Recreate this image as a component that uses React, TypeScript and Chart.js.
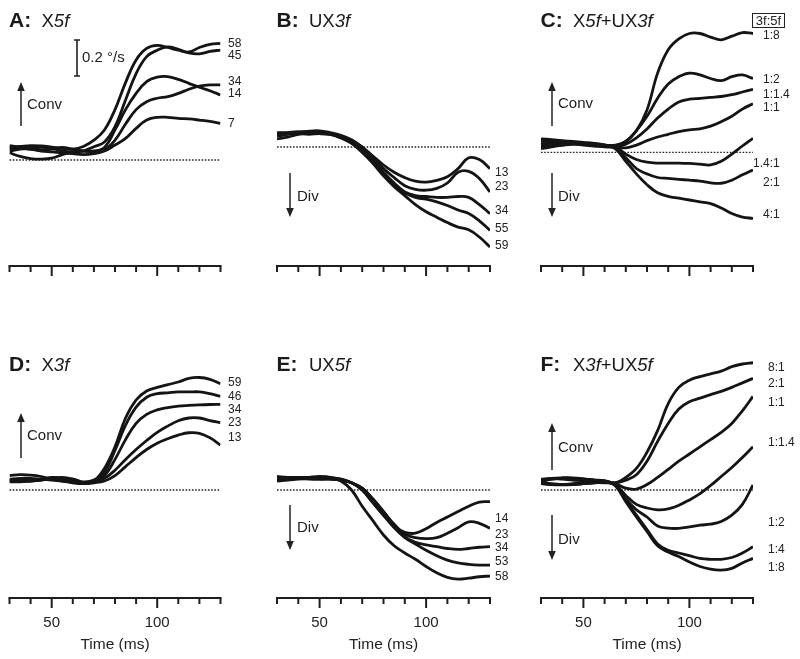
import { useEffect, useRef } from 'react';
import { Chart, registerables } from 'chart.js';
Chart.register(...registerables);

const TIME = [30, 35, 40, 45, 50, 55, 60, 65, 70, 75, 80, 85, 90, 95, 100, 105, 110, 115, 120, 125, 130];
const TICKS = [30, 40, 50, 60, 70, 80, 90, 100, 110, 120, 130];
const MAJOR_TICKS = [50, 100];
const TICK_LABELS = ['50', '100'];
const X_TITLE = 'Time (ms)';

// Panel A: X5f
const A_NAMES = ['58', '45', '34', '14', '7'];
const A_58 = [0.07, 0.075, 0.08, 0.078, 0.072, 0.065, 0.06, 0.075, 0.11, 0.167, 0.28, 0.43, 0.556, 0.62, 0.637, 0.625, 0.61, 0.6, 0.625, 0.643, 0.648];
const A_45 = [0.05, 0.06, 0.065, 0.07, 0.065, 0.05, 0.045, 0.05, 0.074, 0.1, 0.185, 0.333, 0.48, 0.574, 0.61, 0.628, 0.615, 0.595, 0.59, 0.603, 0.611];
const A_34 = [0.04, 0.02, 0.008, 0.005, 0.01, 0.03, 0.045, 0.05, 0.046, 0.056, 0.11, 0.2, 0.28, 0.324, 0.343, 0.352, 0.37, 0.393, 0.41, 0.417, 0.417];
const A_14 = [0.08, 0.07, 0.06, 0.055, 0.06, 0.07, 0.06, 0.05, 0.05, 0.07, 0.167, 0.28, 0.37, 0.435, 0.46, 0.463, 0.448, 0.426, 0.404, 0.385, 0.361];
const A_7 = [0.06, 0.065, 0.06, 0.05, 0.045, 0.04, 0.035, 0.03, 0.035, 0.05, 0.083, 0.12, 0.176, 0.222, 0.237, 0.237, 0.231, 0.228, 0.222, 0.215, 0.204];

// Panel B: UX3f
const B_NAMES = ['13', '23', '34', '55', '59'];
const B_13 = [0.06, 0.07, 0.08, 0.088, 0.09, 0.08, 0.065, 0.04, 0, -0.05, -0.1, -0.14, -0.17, -0.19, -0.195, -0.185, -0.165, -0.12, -0.06, -0.07, -0.12];
const B_23 = [0.045, 0.055, 0.07, 0.08, 0.085, 0.075, 0.06, 0.035, 0, -0.06, -0.12, -0.17, -0.215, -0.235, -0.24, -0.23, -0.2, -0.14, -0.135, -0.175, -0.25];
const B_34 = [0.07, 0.075, 0.08, 0.085, 0.08, 0.075, 0.06, 0.03, -0.01, -0.07, -0.14, -0.2, -0.25, -0.27, -0.275, -0.28, -0.28, -0.275, -0.28, -0.32, -0.37];
const B_55 = [0.075, 0.08, 0.085, 0.08, 0.075, 0.07, 0.055, 0.025, -0.02, -0.08, -0.15, -0.21, -0.255, -0.28, -0.29, -0.305, -0.325, -0.35, -0.37, -0.41, -0.463];
const B_59 = [0.08, 0.078, 0.075, 0.07, 0.075, 0.07, 0.05, 0.02, -0.03, -0.09, -0.16, -0.22, -0.27, -0.32, -0.36, -0.39, -0.42, -0.445, -0.46, -0.5, -0.556];

// Panel C: X5f+UX3f
const C_NAMES = ['1:8', '1:2', '1:1.4', '1:1', '1.4:1', '2:1', '4:1'];
const C_1_8 = [0.07, 0.065, 0.06, 0.055, 0.05, 0.045, 0.04, 0.04, 0.06, 0.12, 0.235, 0.44, 0.57, 0.63, 0.66, 0.66, 0.64, 0.625, 0.645, 0.665, 0.66];
const C_1_2 = [0.05, 0.055, 0.06, 0.055, 0.05, 0.045, 0.04, 0.035, 0.06, 0.12, 0.2, 0.3, 0.38, 0.42, 0.44, 0.43, 0.41, 0.398, 0.42, 0.43, 0.41];
const C_1_14 = [0.03, 0.035, 0.04, 0.045, 0.04, 0.035, 0.03, 0.03, 0.045, 0.08, 0.13, 0.19, 0.24, 0.28, 0.295, 0.3, 0.305, 0.31, 0.32, 0.335, 0.35];
const C_1_1 = [0.06, 0.06, 0.055, 0.05, 0.05, 0.045, 0.04, 0.03, 0.025, 0.04, 0.065, 0.085, 0.1, 0.115, 0.125, 0.13, 0.145, 0.17, 0.2, 0.24, 0.27];
const C_14_1 = [0.02, 0.03, 0.04, 0.045, 0.05, 0.045, 0.035, 0.03, -0.01, -0.04, -0.055, -0.06, -0.06, -0.06, -0.062, -0.066, -0.07, -0.05, -0.01, 0.035, 0.078];
const C_2_1 = [0.04, 0.045, 0.05, 0.05, 0.045, 0.04, 0.035, 0.025, -0.03, -0.09, -0.12, -0.14, -0.145, -0.15, -0.155, -0.16, -0.17, -0.172, -0.155, -0.125, -0.098];
const C_4_1 = [0.075, 0.07, 0.065, 0.06, 0.055, 0.05, 0.04, 0.02, -0.05, -0.12, -0.18, -0.225, -0.245, -0.255, -0.265, -0.275, -0.285, -0.31, -0.34, -0.36, -0.367];

// Panel D: X3f
const D_NAMES = ['59', '46', '34', '23', '13'];
const D_59 = [0.06, 0.065, 0.065, 0.06, 0.055, 0.05, 0.045, 0.035, 0.05, 0.12, 0.24, 0.4, 0.5, 0.55, 0.57, 0.585, 0.6, 0.62, 0.625, 0.615, 0.59];
const D_46 = [0.08, 0.085, 0.083, 0.075, 0.06, 0.055, 0.06, 0.045, 0.055, 0.1, 0.22, 0.36, 0.46, 0.515, 0.535, 0.54, 0.545, 0.545, 0.545, 0.535, 0.52];
const D_34 = [0.05, 0.05, 0.05, 0.055, 0.065, 0.07, 0.06, 0.04, 0.05, 0.08, 0.17, 0.28, 0.37, 0.42, 0.445, 0.458, 0.466, 0.47, 0.473, 0.475, 0.476];
const D_23 = [0.055, 0.055, 0.055, 0.06, 0.07, 0.065, 0.05, 0.035, 0.045, 0.065, 0.11, 0.17, 0.225, 0.275, 0.32, 0.355, 0.385, 0.4, 0.4, 0.385, 0.374];
const D_13 = [0.045, 0.045, 0.05, 0.055, 0.06, 0.05, 0.04, 0.035, 0.04, 0.05, 0.08, 0.13, 0.18, 0.225, 0.26, 0.285, 0.305, 0.318, 0.315, 0.29, 0.25];

// Panel E: UX5f
const E_NAMES = ['14', '23', '34', '53', '58'];
const E_14 = [0.05, 0.055, 0.06, 0.065, 0.07, 0.07, 0.06, 0.04, 0, -0.07, -0.14, -0.2, -0.235, -0.24, -0.215, -0.18, -0.15, -0.12, -0.09, -0.067, -0.065];
const E_23 = [0.06, 0.065, 0.07, 0.07, 0.065, 0.06, 0.055, 0.04, 0.01, -0.05, -0.12, -0.19, -0.245, -0.265, -0.27, -0.265, -0.24, -0.21, -0.177, -0.185, -0.213];
const E_34 = [0.07, 0.07, 0.065, 0.06, 0.06, 0.065, 0.06, 0.04, 0.01, -0.05, -0.12, -0.2, -0.26, -0.29, -0.305, -0.315, -0.325, -0.33, -0.325, -0.318, -0.315];
const E_53 = [0.075, 0.07, 0.07, 0.065, 0.06, 0.06, 0.055, 0.04, 0, -0.07, -0.14, -0.21, -0.265, -0.3, -0.335, -0.365, -0.39, -0.405, -0.413, -0.417, -0.417];
const E_58 = [0.055, 0.06, 0.065, 0.07, 0.075, 0.07, 0.05, 0, -0.09, -0.17, -0.25, -0.31, -0.35, -0.385, -0.425, -0.46, -0.485, -0.495, -0.49, -0.482, -0.478];

// Panel F: X3f+UX5f
const F_NAMES = ['8:1', '2:1', '1:1', '1:1.4', '1:2', '1:4', '1:8'];
const F_8_1 = [0.05, 0.06, 0.065, 0.065, 0.06, 0.055, 0.05, 0.04, 0.07, 0.12, 0.21, 0.33, 0.48, 0.57, 0.61, 0.63, 0.645, 0.66, 0.685, 0.7, 0.707];
const F_2_1 = [0.055, 0.065, 0.068, 0.067, 0.062, 0.055, 0.05, 0.04, 0.055, 0.085, 0.16, 0.27, 0.37, 0.45, 0.49, 0.51, 0.53, 0.548, 0.57, 0.595, 0.62];
const F_1_1 = [0.045, 0.035, 0.03, 0.03, 0.035, 0.04, 0.04, 0.035, 0.01, 0.005, 0.03, 0.07, 0.115, 0.16, 0.2, 0.24, 0.28, 0.32, 0.37, 0.44, 0.52];
const F_1_14 = [0.06, 0.065, 0.06, 0.055, 0.05, 0.05, 0.045, 0.03, -0.03, -0.08, -0.1, -0.11, -0.105, -0.085, -0.055, -0.02, 0.025, 0.075, 0.125, 0.18, 0.24];
const F_1_2 = [0.04, 0.03, 0.028, 0.03, 0.035, 0.04, 0.045, 0.03, -0.05, -0.11, -0.15, -0.2, -0.212, -0.213, -0.205, -0.195, -0.19, -0.175, -0.14, -0.08, 0.028];
const F_1_4 = [0.05, 0.06, 0.065, 0.065, 0.06, 0.055, 0.05, 0.025, -0.06, -0.14, -0.22, -0.3, -0.335, -0.35, -0.365, -0.38, -0.385, -0.385, -0.375, -0.35, -0.315];
const F_1_8 = [0.035, 0.03, 0.03, 0.035, 0.04, 0.045, 0.045, 0.025, -0.065, -0.15, -0.23, -0.31, -0.345, -0.37, -0.4, -0.425, -0.44, -0.445, -0.435, -0.405, -0.38];

const FONT = '"Liberation Sans", Arial, Helvetica, sans-serif';
const INK = '#141414';
const PX_PER_UNIT = 180; // pixels per deg/s

type Arrow = { x: number; tail: number; tip: number; text: string; tx: number; ty: number };
interface PanelCfg {
  left: number; top: number; width: number; height: number;
  x0: number; x1: number; topY: number; axisY: number; zeroY: number;
  letter: string; sub: [string, boolean][];
  series: number[][]; names: string[]; labelDx: number[]; labelDy: number[];
  arrows: Arrow[]; tickLabels: boolean;
  scaleBar?: { x: number; top: number; text: string };
  box?: { x: number; y: number; w: number; h: number; text: string };
}

const PANELS: PanelCfg[] = [
  {
    left: 0, top: 0, width: 265, height: 300, x0: 9.5, x1: 220.5, topY: 5, axisY: 266, zeroY: 160,
    letter: 'A:', sub: [['X', false], ['5f', true]],
    series: [A_58, A_45, A_34, A_14, A_7], names: A_NAMES,
    labelDx: [7.5, 7.5, 7.5, 7.5, 7.5], labelDy: [0, 6, -3, -1, 0],
    arrows: [{ x: 21, tail: 126, tip: 82, text: 'Conv', tx: 27, ty: 105 }], tickLabels: false,
    scaleBar: { x: 77, top: 40, text: '0.2 °/s' },
  },
  {
    left: 265, top: 0, width: 265, height: 300, x0: 277, x1: 490, topY: 5, axisY: 266, zeroY: 147,
    letter: 'B:', sub: [['UX', false], ['3f', true]],
    series: [B_13, B_23, B_34, B_55, B_59], names: B_NAMES,
    labelDx: [5, 5, 5, 5, 5], labelDy: [4.5, -5, -2.5, -1.3, -1],
    arrows: [{ x: 290, tail: 173, tip: 217, text: 'Div', tx: 297, ty: 197 }], tickLabels: false,
  },
  {
    left: 530, top: 0, width: 270, height: 300, x0: 541, x1: 753, topY: 5, axisY: 266, zeroY: 152.3,
    letter: 'C:', sub: [['X', false], ['5f', true], ['+UX', false], ['3f', true]],
    series: [C_1_8, C_1_2, C_1_14, C_1_1, C_14_1, C_2_1, C_4_1], names: C_NAMES,
    labelDx: [10, 10, 10, 10, 0, 10, 10], labelDy: [2.5, 1.5, 5, 4, 25, 13, -4],
    arrows: [
      { x: 552, tail: 126, tip: 82, text: 'Conv', tx: 558, ty: 104 },
      { x: 552, tail: 173, tip: 217, text: 'Div', tx: 558, ty: 197 },
    ], tickLabels: false,
    box: { x: 752, y: 13, w: 32, h: 14, text: '3f:5f' },
  },
  {
    left: 0, top: 330, width: 265, height: 329, x0: 9.5, x1: 220.5, topY: 335, axisY: 598, zeroY: 490,
    letter: 'D:', sub: [['X', false], ['3f', true]],
    series: [D_59, D_46, D_34, D_23, D_13], names: D_NAMES,
    labelDx: [7.5, 7.5, 7.5, 7.5, 7.5], labelDy: [-1, 0, 5, 0, -7],
    arrows: [{ x: 21, tail: 458, tip: 413, text: 'Conv', tx: 27, ty: 436 }], tickLabels: true,
  },
  {
    left: 265, top: 330, width: 265, height: 329, x0: 277, x1: 490, topY: 335, axisY: 598, zeroY: 490,
    letter: 'E:', sub: [['UX', false], ['5f', true]],
    series: [E_14, E_23, E_34, E_53, E_58], names: E_NAMES,
    labelDx: [5, 5, 5, 5, 5], labelDy: [17, 6, 1, -3, 1],
    arrows: [{ x: 290, tail: 505, tip: 550, text: 'Div', tx: 297, ty: 528 }], tickLabels: true,
  },
  {
    left: 530, top: 330, width: 270, height: 329, x0: 541, x1: 753, topY: 335, axisY: 598, zeroY: 490,
    letter: 'F:', sub: [['X', false], ['3f', true], ['+UX', false], ['5f', true]],
    series: [F_8_1, F_2_1, F_1_1, F_1_14, F_1_2, F_1_4, F_1_8], names: F_NAMES,
    labelDx: [15, 15, 15, 15, 15, 15, 15], labelDy: [5, 5, 6, -4, 38, 3, 9],
    arrows: [
      { x: 552, tail: 470, tip: 423, text: 'Conv', tx: 558, ty: 448 },
      { x: 552, tail: 515, tip: 560, text: 'Div', tx: 558, ty: 540 },
    ], tickLabels: true,
  },
];

function makePlugin(cfg: PanelCfg) {
  const L = cfg.left, T = cfg.top;
  return {
    id: 'panelDecor' + cfg.letter,
    beforeDatasetsDraw(chart: any) {
      const { ctx, chartArea, scales } = chart;
      const y0 = scales.y.getPixelForValue(0);
      ctx.save();
      ctx.setLineDash([1.6, 1.6]);
      ctx.lineWidth = 1.3;
      ctx.strokeStyle = '#222';
      ctx.beginPath();
      ctx.moveTo(chartArea.left, y0);
      ctx.lineTo(chartArea.right, y0);
      ctx.stroke();
      ctx.restore();
    },
    afterDraw(chart: any) {
      const { ctx, chartArea, scales } = chart;
      const xs = scales.x, ys = scales.y;
      const ax = chartArea.bottom;
      ctx.save();
      // x axis
      ctx.strokeStyle = '#1e1e1e';
      ctx.lineWidth = 2;
      ctx.lineCap = 'butt';
      ctx.beginPath();
      ctx.moveTo(xs.getPixelForValue(TICKS[0]) - 1, ax);
      ctx.lineTo(xs.getPixelForValue(TICKS[TICKS.length - 1]) + 1, ax);
      ctx.stroke();
      TICKS.forEach((t) => {
        const px = xs.getPixelForValue(t);
        const len = MAJOR_TICKS.includes(t) ? 10 : 6;
        ctx.beginPath();
        ctx.moveTo(px, ax);
        ctx.lineTo(px, ax + len);
        ctx.stroke();
      });
      ctx.fillStyle = '#222';
      if (cfg.tickLabels) {
        ctx.font = `15px ${FONT}`;
        ctx.textAlign = 'center';
        ctx.textBaseline = 'middle';
        MAJOR_TICKS.forEach((t, i) => ctx.fillText(TICK_LABELS[i], xs.getPixelForValue(t), ax + 25));
        ctx.font = `15.5px ${FONT}`;
        ctx.fillText(X_TITLE, (chartArea.left + chartArea.right) / 2, ax + 47);
      }
      // series labels
      ctx.font = `12px ${FONT}`;
      ctx.textAlign = 'left';
      ctx.textBaseline = 'middle';
      cfg.series.forEach((s, i) => {
        const yEnd = ys.getPixelForValue(s[s.length - 1]);
        ctx.fillText(cfg.names[i], chartArea.right + cfg.labelDx[i], yEnd + cfg.labelDy[i]);
      });
      // title
      ctx.fillStyle = '#1a1a1a';
      ctx.textBaseline = 'alphabetic';
      const tx = cfg.x0 - L - 0.5;
      const tb = (T === 0 ? 26.5 : 370.5) - T;
      ctx.font = `bold 21px ${FONT}`;
      ctx.fillText(cfg.letter, tx, tb);
      let sx = tx + 32.5;
      cfg.sub.forEach(([txt, it]) => {
        ctx.font = `${it ? 'italic ' : ''}18.5px ${FONT}`;
        ctx.fillText(txt, sx, tb);
        sx += ctx.measureText(txt).width;
      });
      // arrows
      ctx.strokeStyle = '#222';
      ctx.fillStyle = '#222';
      ctx.lineWidth = 1.5;
      cfg.arrows.forEach((a) => {
        const x = a.x - L, tail = a.tail - T, tip = a.tip - T;
        const dir = tip < tail ? -1 : 1;
        ctx.beginPath();
        ctx.moveTo(x, tail);
        ctx.lineTo(x, tip - dir * 7);
        ctx.stroke();
        ctx.beginPath();
        ctx.moveTo(x, tip);
        ctx.lineTo(x - 3.8, tip - dir * 9);
        ctx.lineTo(x + 3.8, tip - dir * 9);
        ctx.closePath();
        ctx.fill();
        ctx.font = `15px ${FONT}`;
        ctx.textBaseline = 'middle';
        ctx.fillText(a.text, a.tx - L, a.ty - T);
      });
      // scale bar
      if (cfg.scaleBar) {
        const sb = cfg.scaleBar;
        const len = ys.getPixelForValue(0) - ys.getPixelForValue(0.2);
        const x = sb.x - L, y1 = sb.top - T, y2 = y1 + len;
        ctx.lineWidth = 1.6;
        ctx.beginPath();
        ctx.moveTo(x, y1); ctx.lineTo(x, y2);
        ctx.moveTo(x - 3, y1); ctx.lineTo(x + 3, y1);
        ctx.moveTo(x - 3, y2); ctx.lineTo(x + 3, y2);
        ctx.stroke();
        ctx.font = `15px ${FONT}`;
        ctx.textBaseline = 'middle';
        ctx.fillText(sb.text, x + 5, (y1 + y2) / 2);
      }
      // box
      if (cfg.box) {
        const b = cfg.box;
        ctx.lineWidth = 1;
        ctx.strokeRect(b.x - L + 0.5, b.y - T + 0.5, b.w, b.h);
        ctx.font = `13px ${FONT}`;
        ctx.textAlign = 'center';
        ctx.textBaseline = 'middle';
        ctx.fillText(b.text, b.x - L + b.w / 2 + 0.5, b.y - T + b.h / 2 + 1);
      }
      ctx.restore();
    },
  };
}

function Panel({ cfg }: { cfg: PanelCfg }) {
  const ref = useRef<HTMLCanvasElement | null>(null);
  useEffect(() => {
    const c = ref.current;
    if (!c) return;
    const padTop = cfg.topY - cfg.top;
    const padBottom = cfg.top + cfg.height - cfg.axisY;
    const padLeft = cfg.x0 - cfg.left;
    const padRight = cfg.left + cfg.width - cfg.x1;
    const yMax = (cfg.zeroY - cfg.topY) / PX_PER_UNIT;
    const yMin = (cfg.zeroY - cfg.axisY) / PX_PER_UNIT;
    const chart = new Chart(c, {
      type: 'line',
      data: {
        datasets: cfg.series.map((s, i) => ({
          label: cfg.names[i],
          data: TIME.map((t, j) => ({ x: t, y: s[j] })),
          borderColor: INK,
          borderWidth: 2.8,
          pointRadius: 0,
          tension: 0.4,
          fill: false,
        })),
      },
      options: {
        animation: false,
        responsive: false,
        devicePixelRatio: 1,
        events: [],
        layout: { padding: { left: padLeft, right: padRight, top: padTop, bottom: padBottom } },
        scales: {
          x: { type: 'linear', min: TICKS[0], max: TICKS[TICKS.length - 1], display: false },
          y: { type: 'linear', min: yMin, max: yMax, display: false },
        },
        plugins: { legend: { display: false }, tooltip: { enabled: false }, title: { display: false } },
      } as any,
      plugins: [makePlugin(cfg) as any],
    });
    return () => chart.destroy();
  }, [cfg]);
  return (
    <canvas
      ref={ref}
      width={cfg.width}
      height={cfg.height}
      style={{ position: 'absolute', left: cfg.left, top: cfg.top, width: cfg.width, height: cfg.height }}
    />
  );
}

export default function App() {
  return (
    <div style={{ position: 'fixed', left: 0, top: 0, width: 800, height: 659, background: '#fff', overflow: 'hidden' }}>
      {PANELS.map((p) => (
        <Panel key={p.letter} cfg={p} />
      ))}
    </div>
  );
}
